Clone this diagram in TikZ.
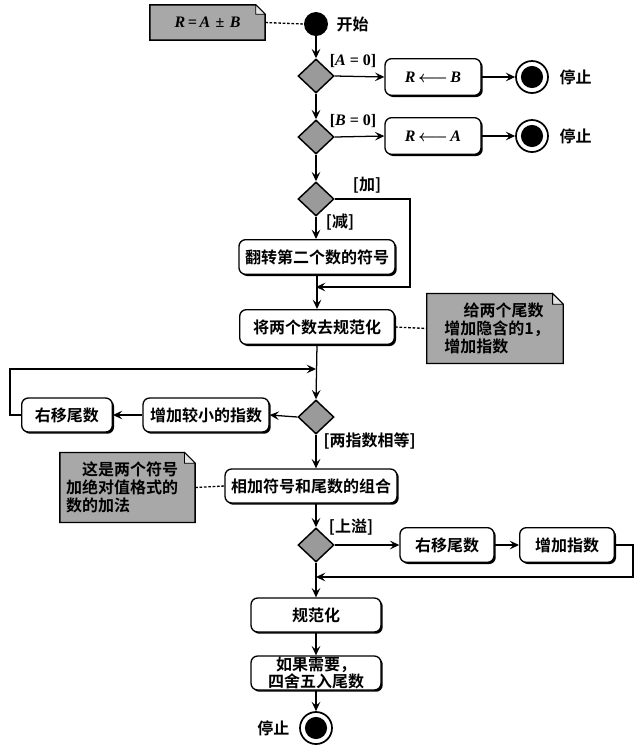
\documentclass[tikz,border=0pt]{standalone}
\usepackage{amsmath}
\usepackage{fontspec}
\setmainfont{Liberation Serif}
\newfontfamily\cjk{Noto Sans CJK SC}[BoldFont=Noto Sans CJK SC Bold]
\usetikzlibrary{arrows.meta,shapes.geometric,shadows,backgrounds,calc}
\definecolor{diagray}{HTML}{9A9A9A}
\definecolor{notegray}{HTML}{A8A8A8}
\begin{document}
\begin{tikzpicture}[x=0.75pt,y=-0.75pt,
  every node/.style={font=\cjk\bfseries\fontsize{12}{14}\selectfont},
  lat/.style={font=\rmfamily\bfseries\fontsize{12}{14}\selectfont},
  act/.style={draw, line width=1pt, rounded corners=5pt, fill=white, inner sep=0pt,
    drop shadow={shadow xshift=1.3pt, shadow yshift=-1.3pt, fill=black, opacity=1}},
  dec/.style={draw, diamond, line width=1.1pt, fill=diagray, inner sep=0pt,
    minimum width=27pt, minimum height=25.5pt},
  startdot/.style={circle, fill=black, minimum size=18pt, inner sep=0pt},
  enddot/.style={circle, draw, line width=1.3pt, minimum size=24pt, inner sep=0pt},
  notetext/.style={align=left, inner sep=0pt,
    font=\cjk\bfseries\fontsize{12}{13.5}\selectfont},
  arr/.style={line width=0.95pt, -{Stealth[length=7pt,width=6.5pt,inset=2.8pt]}},
  dots/.style={line width=1pt, dash pattern=on 2pt off 1.3pt},
  guard/.style={font=\cjk\bfseries\fontsize{12}{14}\selectfont, inner sep=1pt}
]
\useasboundingbox (0,0) rectangle (643,751);

% ---- start and the two early exits ----
\node[startdot] (start) at (316,24) {};
\node[anchor=west] (startlbl) at (332,24) {开始};
\node[lat, font=\rmfamily\bfseries\itshape\fontsize{12}{14}\selectfont,
      minimum width=86pt, minimum height=26pt, inner sep=0pt] (n1) at (207.5,22.5)
      {R\,=\,A\,\,±\,\,B};

\node[dec] (d1) at (316,76) {};
\node[dec] (d2) at (316,137) {};
\node[act, minimum width=72pt, minimum height=27.5pt] (b1) at (433,77)
  {\rmfamily\bfseries\itshape R\,$\boldsymbol{\longleftarrow}$\,B};
\node[act, minimum width=72pt, minimum height=27.5pt] (b2) at (433,136)
  {\rmfamily\bfseries\itshape R\,$\boldsymbol{\longleftarrow}$\,A};
\node[enddot] (e1) at (532,77) {};
\node[enddot] (e2) at (532,136) {};
\fill (e1) circle[radius=8.3pt];
\fill (e2) circle[radius=8.3pt];
\node[anchor=west] (e1lbl) at (555,77) {停止};
\node[anchor=west] (e2lbl) at (555,136) {停止};
\node[lat] (g1) at (353,61) {[\textit{A} = 0]};
\node[lat] (g2) at (353,121) {[\textit{B} = 0]};

% ---- add / subtract ----
\node[dec] (d3) at (316,199) {};
\node[guard] (g3) at (367,185) {[加]};
\node[guard] (g4) at (340,222) {[减]};
\node[act, minimum width=117pt, minimum height=26pt] (flip) at (317,257) {翻转第二个数的符号};
\coordinate (j1) at (410,287);
\coordinate (m1) at (316,287);
\node[act, minimum width=116pt, minimum height=26pt] (denorm) at (317,327) {将两个数去规范化};
\node[notetext, minimum width=102pt, minimum height=52pt, text width=76pt] (n2) at (495,328.5)
  {\hspace*{1.2em}给两个尾数\\增加隐含的1，\\增加指数};

% ---- exponent alignment loop ----
\node[dec] (d4) at (316,417) {};
\node[act, minimum width=94.5pt, minimum height=25.5pt] (incs) at (206,415) {增加较小的指数};
\node[act, minimum width=68pt, minimum height=25.5pt] (shr1) at (67,415) {右移尾数};
\coordinate (k1) at (10,415);
\coordinate (k2) at (10,369);
\coordinate (m2) at (316,369);
\node[guard, anchor=west] (g5) at (322,441) {[两指数相等]};

% ---- addition ----
\node[act, minimum width=129pt, minimum height=25.5pt] (add) at (311,486) {相加符号和尾数的组合};
\node[notetext, minimum width=101pt, minimum height=52pt, text width=92pt] (n3) at (127.5,487.5)
  {\hspace*{1em}这是两个符号\\加绝对值格式的\\数的加法};

% ---- overflow handling ----
\node[dec] (d5) at (316,545) {};
\node[guard] (g6) at (351,527) {[上溢]};
\node[act, minimum width=70.5pt, minimum height=26pt] (shr2) at (447,545) {右移尾数};
\node[act, minimum width=71pt, minimum height=26pt] (incx) at (567,545) {增加指数};
\coordinate (k3) at (633,545);
\coordinate (k4) at (633,577);
\coordinate (m3) at (316,577);

% ---- normalise, round, stop ----
\node[act, minimum width=97.5pt, minimum height=25.5pt] (norm) at (316,615) {规范化};
\node[act, minimum width=97.5pt, minimum height=25.5pt, align=center,
      font=\cjk\bfseries\fontsize{12}{13}\selectfont] (rnd) at (316,673) {如果需要，\\四舍五入尾数};
\node[enddot] (e3) at (316,728) {};
\fill (e3) circle[radius=8.3pt];
\node[anchor=east] (e3lbl) at (294,728) {停止};

% ---- note frames with folded corner ----
\begin{pgfonlayer}{background}
  \foreach \n/\f in {n1/7pt, n2/8pt, n3/8pt} {
    \fill[black, xshift=1.3pt, yshift=-1.3pt]
      (\n.north west) -- ([xshift=-\f]\n.north east) -- ([yshift=-\f]\n.north east)
      -- (\n.south east) -- (\n.south west) -- cycle;
    \filldraw[fill=notegray, draw=black, line width=1pt]
      (\n.north west) -- ([xshift=-\f]\n.north east) -- ([yshift=-\f]\n.north east)
      -- (\n.south east) -- (\n.south west) -- cycle;
    \filldraw[fill=gray!20, draw=black, line width=0.6pt]
      ([xshift=-\f]\n.north east) -- ([xshift=-\f,yshift=-\f]\n.north east)
      -- ([yshift=-\f]\n.north east) -- cycle;
  }
\end{pgfonlayer}

% ---- connectors ----
\draw[dots] (n1.east) -- (start.west);
\draw[arr] (start) -- (d1);
\draw[arr] (d1.east) -- (b1.west);
\draw[arr] (b1.east) -- (e1.west);
\draw[arr] (d1.south) -- (d2.north);
\draw[arr] (d2.east) -- (b2.west);
\draw[arr] (b2.east) -- (e2.west);
\draw[arr] (d2.south) -- (d3.north);
\draw[arr] (d3.south) -- (d3.south |- flip.north);
\draw[arr] (d3.east) -| (j1) -- (m1);
\draw[arr] (flip.south) -- (denorm.north);
\draw[dots] (denorm.east) -- (n2.west);
\draw[arr] (denorm.south) -- (d4.north);
\draw[arr] (d4.west) -- (incs.east);
\draw[arr] (incs.west) -- (shr1.east);
\draw[arr] (shr1.west) -- (k1) -- (k2) -- (m2);
\draw[arr] (d4.south) -- (d4.south |- add.north);
\draw[dots] (n3.east) -- (add.west);
\draw[arr] (d5.north |- add.south) -- (d5.north);
\draw[arr] (d5.east) -- (shr2.west);
\draw[arr] (shr2.east) -- (incx.west);
\draw[arr] (incx.east) -- (k3) -- (k4) -- (m3);
\draw[arr] (d5.south) -- (norm.north);
\draw[arr] (norm.south) -- (rnd.north);
\draw[arr] (rnd.south) -- (e3.north);
\end{tikzpicture}
\end{document}
